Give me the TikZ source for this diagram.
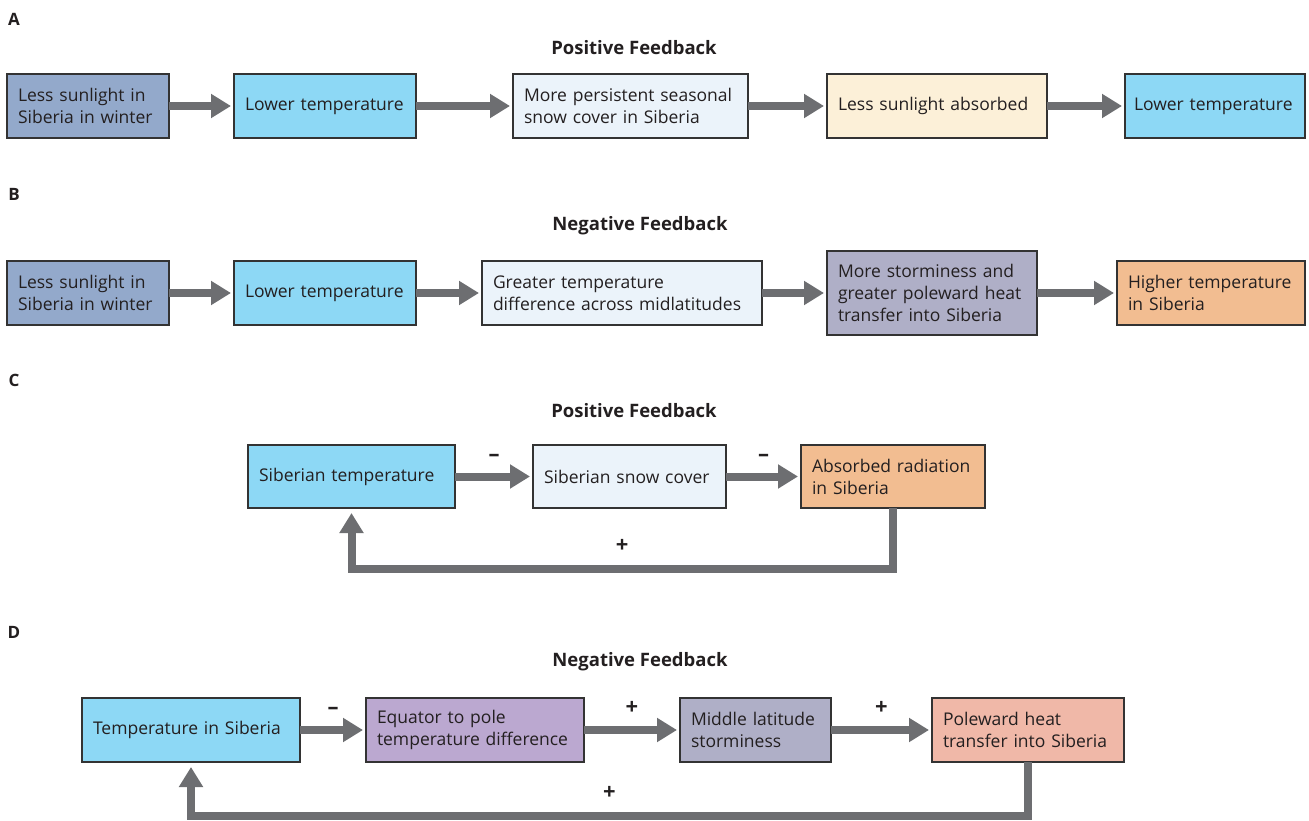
\documentclass[tikz,border=0pt]{standalone}
\usepackage{fontspec}
\setmainfont{Open Sans}
\usetikzlibrary{arrows.meta, positioning}
\definecolor{textdark}{RGB}{35, 31, 32}
\definecolor{boxline}{RGB}{51, 51, 51}
\definecolor{arrowgray}{RGB}{109, 110, 113}
\definecolor{sunblue}{RGB}{147, 169, 203}
\definecolor{tempcyan}{RGB}{141, 216, 245}
\definecolor{snowpale}{RGB}{235, 243, 250}
\definecolor{creamy}{RGB}{252, 240, 216}
\definecolor{warmorange}{RGB}{242, 189, 145}
\definecolor{stormgray}{RGB}{175, 175, 199}
\definecolor{eqpurple}{RGB}{187, 168, 208}
\definecolor{heatsalmon}{RGB}{240, 184, 168}

\tikzset{
  box/.style={draw=boxline, line width=1.2pt, anchor=north west, outer sep=0pt,
    inner xsep=11pt, inner ysep=0pt, align=left, minimum height=64pt,
    font=\fontsize{17.5}{22}\selectfont, text=textdark},
  title/.style={font=\fontsize{18.5}{20}\selectfont\bfseries, text=textdark},
  panel/.style={font=\fontsize{17}{20}\selectfont\bfseries, text=textdark},
  sign/.style={font=\fontsize{22}{22}\selectfont\bfseries, text=textdark},
  flow/.style={line width=8pt, draw=arrowgray, shorten >=3pt,
    -{Triangle[length=20pt, width=23pt]}}
}

\begin{document}
\begin{tikzpicture}[x=1pt, y=-1pt]
  \useasboundingbox (0,0) rectangle (1309,821);

  % A: positive feedback chain
  \node[panel] (labA) at (14,19) {A};
  \node[title] (titA) at (634,48) {Positive Feedback};
  \node[box, fill=sunblue, text width=140pt] (a1) at (7,74) {Less sunlight in\\Siberia in winter};
  \node[box, fill=tempcyan, text width=160pt] (a2) at (234,74) {Lower temperature};
  \node[box, fill=snowpale, text width=213pt] (a3) at (513,74) {More persistent seasonal\\snow cover in Siberia};
  \node[box, fill=creamy, text width=198pt] (a4) at (827,74) {Less sunlight absorbed};
  \node[box, fill=tempcyan, inner xsep=9pt, text width=162pt] (a5) at (1125,74) {Lower temperature};
  \draw[flow] (a1) -- (a2);
  \draw[flow] (a2) -- (a3);
  \draw[flow] (a3) -- (a4);
  \draw[flow] (a4) -- (a5);

  % B: negative feedback chain
  \node[panel] (labB) at (14,194) {B};
  \node[title] (titB) at (640,226) {Negative Feedback};
  \node[box, fill=sunblue, text width=140pt] (b1) at (7,261) {Less sunlight in\\Siberia in winter};
  \node[box, fill=tempcyan, text width=160pt] (b2) at (234,261) {Lower temperature};
  \node[box, fill=snowpale, text width=258pt] (b3) at (482,261) {Greater temperature\\difference across midlatitudes};
  \node[box, fill=stormgray, text width=188pt, minimum height=84pt] (b4) at (827,251) {More storminess and\\greater poleward heat\\transfer into Siberia};
  \node[box, fill=warmorange, text width=166pt] (b5) at (1117,261) {Higher temperature\\in Siberia};
  \draw[flow] (b1) -- (b2);
  \draw[flow] (b2) -- (b3);
  \draw[flow] (b3) -- (b4);
  \draw[flow] (b4) -- (b5);

  % C: positive feedback loop
  \node[panel] (labC) at (14,380) {C};
  \node[title] (titC) at (634,411) {Positive Feedback};
  \node[box, fill=tempcyan, text width=185pt, minimum height=63pt] (c1) at (248,445) {Siberian temperature};
  \node[box, fill=snowpale, text width=171pt, minimum height=63pt] (c2) at (533,445) {Siberian snow cover};
  \node[box, fill=warmorange, text width=162pt, minimum height=63pt] (c3) at (801,445) {Absorbed radiation\\in Siberia};
  \draw[flow] (c1) -- node[sign, above=8pt] {–} (c2);
  \draw[flow] (c2) -- node[sign, above=8pt] {–} (c3);
  \draw[flow, shorten >=5pt] (c3.south) -- ++(0,61) -| node[sign, pos=0.25, above=9pt] {+} (c1.south);

  % D: negative feedback loop
  \node[panel] (labD) at (14,632) {D};
  \node[title] (titD) at (640,662) {Negative Feedback};
  \node[box, fill=tempcyan, text width=196pt] (d1) at (82,698) {Temperature in Siberia};
  \node[box, fill=eqpurple, text width=196pt] (d2) at (366,698) {Equator to pole\\temperature difference};
  \node[box, fill=stormgray, text width=129pt] (d3) at (680,698) {Middle latitude\\storminess};
  \node[box, fill=heatsalmon, text width=170pt] (d4) at (932,698) {Poleward heat\\transfer into Siberia};
  \draw[flow] (d1) -- node[sign, above=8pt] {–} (d2);
  \draw[flow] (d2) -- node[sign, above=8pt] {+} (d3);
  \draw[flow] (d3) -- node[sign, above=8pt] {+} (d4);
  \draw[flow, shorten >=5pt] (d4.south) -- ++(0,54) -| node[sign, pos=0.25, above=9pt] {+} (d1.south);
\end{tikzpicture}
\end{document}
